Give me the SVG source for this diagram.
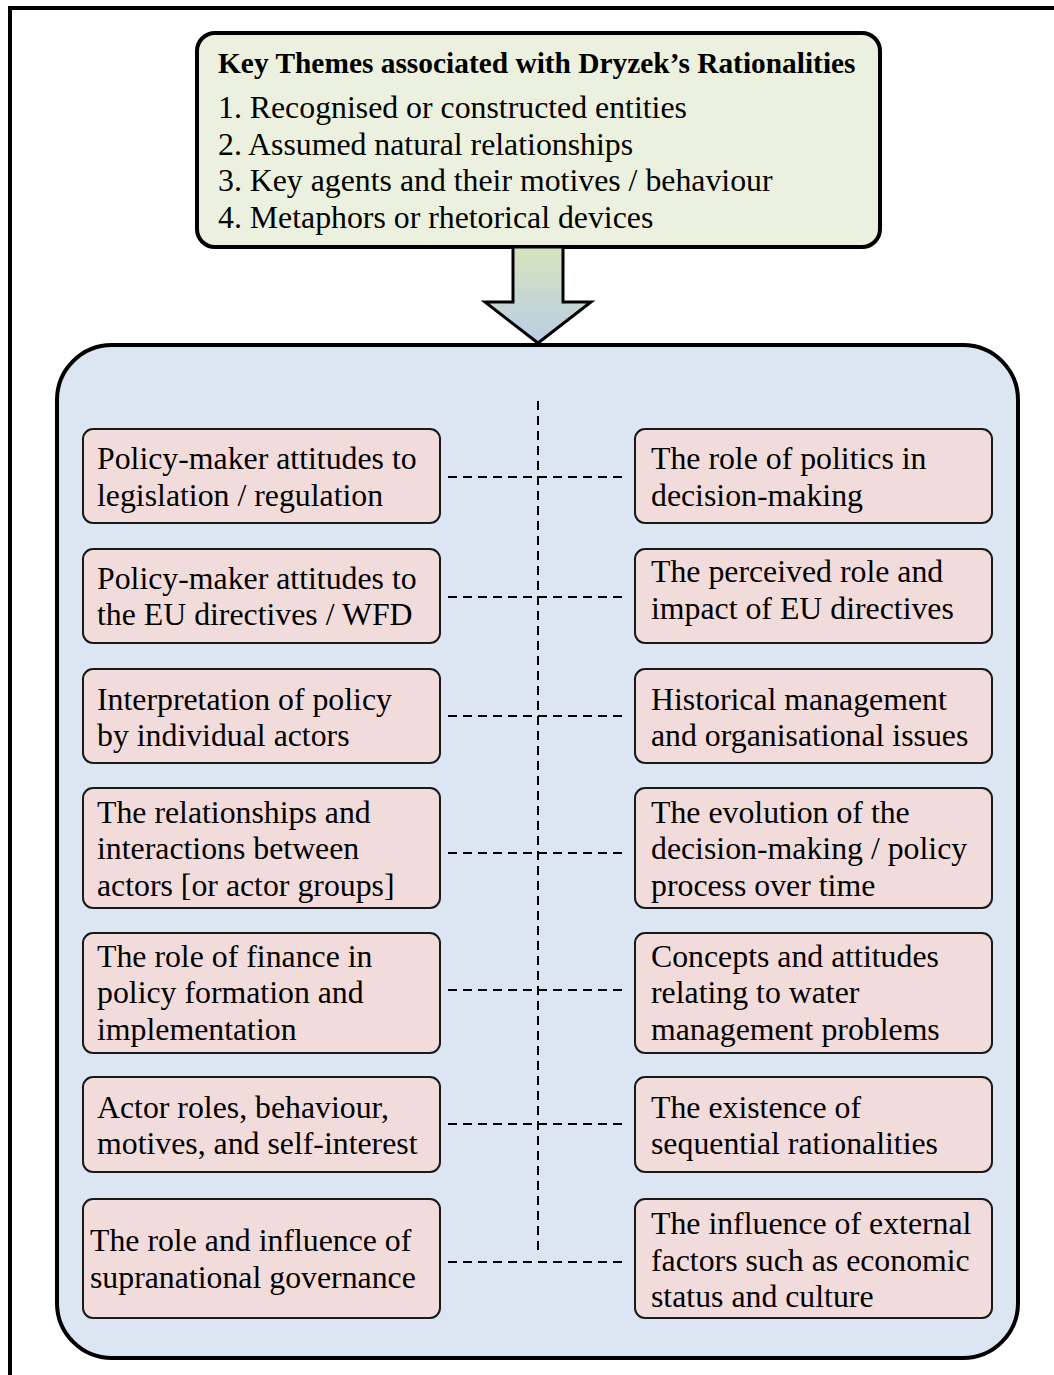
<svg xmlns="http://www.w3.org/2000/svg" width="1054" height="1375" viewBox="0 0 1054 1375">
  <defs>
    <linearGradient id="arrowGrad" x1="0" y1="0" x2="0" y2="1">
      <stop offset="0" stop-color="#D7E4BD"/>
      <stop offset="1" stop-color="#B9CDE5"/>
    </linearGradient>
    <style>
      .frame { fill: none; stroke: #000; stroke-width: 4; }
      .topbox { fill: #EBF1DE; stroke: #000; stroke-width: 4; }
      .mainbox { fill: #DCE6F2; stroke: #000; stroke-width: 4; }
      .node rect { fill: #F2DCDB; stroke: #1a1a1a; stroke-width: 2; }
      .t { font-family: "Liberation Serif", "Times New Roman", serif; font-size: 31.8px; fill: #000; }
      .title { font-family: "Liberation Serif", "Times New Roman", serif; font-size: 29.4px; font-weight: bold; fill: #000; }
      .dash { fill: none; stroke: #000; stroke-width: 2; stroke-dasharray: 9 6; }
    </style>
  </defs>

  <rect width="1054" height="1375" fill="#FFFFFF"/>
  <rect class="frame" x="10" y="8" width="1100" height="1400"/>

  <g id="key-themes">
    <rect class="topbox" x="197" y="33" width="683" height="214" rx="18"/>
    <text class="title" x="218" y="73">Key Themes associated with Dryzek’s Rationalities</text>
    <text class="t" x="218" y="118">1. Recognised or constructed entities</text>
    <text class="t" x="218" y="155">2. Assumed natural relationships</text>
    <text class="t" x="218" y="191">3. Key agents and their motives / behaviour</text>
    <text class="t" x="218" y="228">4. Metaphors or rhetorical devices</text>
  </g>

  <g id="arrow">
    <polygon points="513,247 563,247 563,302 591,302 538,343 485,302 513,302" fill="url(#arrowGrad)" stroke="#000" stroke-width="3" stroke-linejoin="miter"/>
  </g>

  <g id="container">
    <rect class="mainbox" x="57" y="345" width="961" height="1013" rx="55"/>
  </g>

  <g id="connectors">
    <line class="dash" x1="538" y1="401" x2="538" y2="1254"/>
    <line class="dash" x1="448" y1="477" x2="628" y2="477"/>
    <line class="dash" x1="448" y1="597" x2="628" y2="597"/>
    <line class="dash" x1="448" y1="716" x2="628" y2="716"/>
    <line class="dash" x1="448" y1="853" x2="628" y2="853"/>
    <line class="dash" x1="448" y1="990" x2="628" y2="990"/>
    <line class="dash" x1="448" y1="1124" x2="628" y2="1124"/>
    <line class="dash" x1="448" y1="1262" x2="628" y2="1262"/>
  </g>

  <g id="left-1" class="node">
    <rect x="83" y="429" width="357" height="94" rx="10"/>
    <text class="t" x="97" y="469">Policy-maker attitudes to</text>
    <text class="t" x="97" y="506">legislation / regulation</text>
  </g>
  <g id="left-2" class="node">
    <rect x="83" y="549" width="357" height="94" rx="10"/>
    <text class="t" x="97" y="589">Policy-maker attitudes to</text>
    <text class="t" x="97" y="625">the EU directives / WFD</text>
  </g>
  <g id="left-3" class="node">
    <rect x="83" y="669" width="357" height="94" rx="10"/>
    <text class="t" x="97" y="710">Interpretation of policy</text>
    <text class="t" x="97" y="746">by individual actors</text>
  </g>
  <g id="left-4" class="node">
    <rect x="83" y="788" width="357" height="120" rx="10"/>
    <text class="t" x="97" y="823">The relationships and</text>
    <text class="t" x="97" y="859">interactions between</text>
    <text class="t" x="97" y="896">actors [or actor groups]</text>
  </g>
  <g id="left-5" class="node">
    <rect x="83" y="933" width="357" height="120" rx="10"/>
    <text class="t" x="97" y="967">The role of finance in</text>
    <text class="t" x="97" y="1003">policy formation and</text>
    <text class="t" x="97" y="1040">implementation</text>
  </g>
  <g id="left-6" class="node">
    <rect x="83" y="1077" width="357" height="95" rx="10"/>
    <text class="t" x="97" y="1118">Actor roles, behaviour,</text>
    <text class="t" x="97" y="1154">motives, and self-interest</text>
  </g>
  <g id="left-7" class="node">
    <rect x="83" y="1199" width="357" height="119" rx="10"/>
    <text class="t" x="90" y="1251">The role and influence of</text>
    <text class="t" x="90" y="1288">supranational governance</text>
  </g>

  <g id="right-1" class="node">
    <rect x="635" y="429" width="357" height="94" rx="10"/>
    <text class="t" x="651" y="469">The role of politics in</text>
    <text class="t" x="651" y="506">decision-making</text>
  </g>
  <g id="right-2" class="node">
    <rect x="635" y="549" width="357" height="94" rx="10"/>
    <text class="t" x="651" y="582">The perceived role and</text>
    <text class="t" x="651" y="619">impact of EU directives</text>
  </g>
  <g id="right-3" class="node">
    <rect x="635" y="669" width="357" height="94" rx="10"/>
    <text class="t" x="651" y="710">Historical management</text>
    <text class="t" x="651" y="746">and organisational issues</text>
  </g>
  <g id="right-4" class="node">
    <rect x="635" y="788" width="357" height="120" rx="10"/>
    <text class="t" x="651" y="823">The evolution of the</text>
    <text class="t" x="651" y="859">decision-making / policy</text>
    <text class="t" x="651" y="896">process over time</text>
  </g>
  <g id="right-5" class="node">
    <rect x="635" y="933" width="357" height="120" rx="10"/>
    <text class="t" x="651" y="967">Concepts and attitudes</text>
    <text class="t" x="651" y="1003">relating to water</text>
    <text class="t" x="651" y="1040">management problems</text>
  </g>
  <g id="right-6" class="node">
    <rect x="635" y="1077" width="357" height="95" rx="10"/>
    <text class="t" x="651" y="1118">The existence of</text>
    <text class="t" x="651" y="1154">sequential rationalities</text>
  </g>
  <g id="right-7" class="node">
    <rect x="635" y="1199" width="357" height="119" rx="10"/>
    <text class="t" x="651" y="1234">The influence of external</text>
    <text class="t" x="651" y="1271">factors such as economic</text>
    <text class="t" x="651" y="1307">status and culture</text>
  </g>
</svg>
